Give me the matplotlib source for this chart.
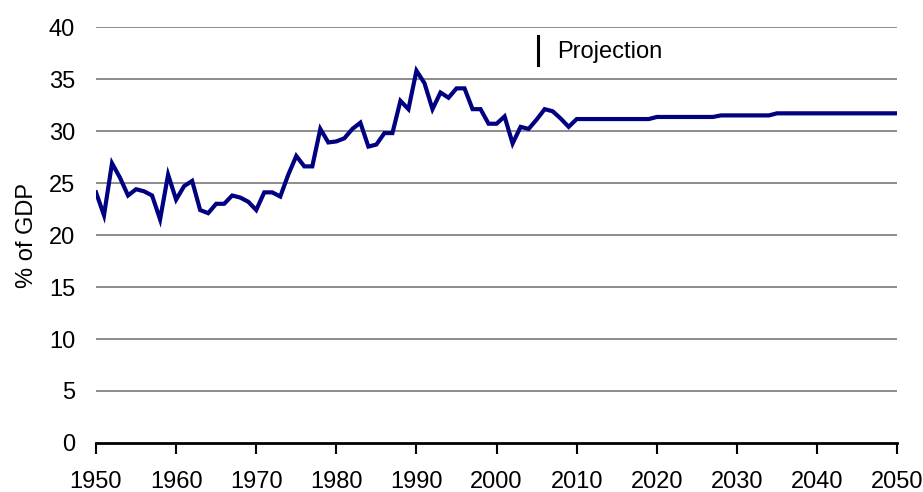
import matplotlib
matplotlib.use("Agg")
import matplotlib.pyplot as plt
import numpy as np

plt.rcParams['font.family'] = ['Liberation Sans', 'DejaVu Sans']

years = list(range(1950, 2051))
hist_values = [
    24.1, 21.9, 26.9, 25.5, 23.8, 24.4, 24.2, 23.8, 21.5, 25.8,  # 1950-1959
    23.4, 24.7, 25.2, 22.4, 22.1, 23.0, 23.0, 23.8, 23.6, 23.2,  # 1960-1969
    22.4, 24.1, 24.1, 23.7, 25.8, 27.6, 26.6, 26.6, 30.2, 28.9,  # 1970-1979
    29.0, 29.3, 30.2, 30.8, 28.5, 28.7, 29.8, 29.8, 32.9, 32.1,  # 1980-1989
    35.8, 34.6, 32.1, 33.7, 33.2, 34.1, 34.1, 32.1, 32.1, 30.7,  # 1990-1999
    30.7, 31.4, 28.8, 30.4, 30.2, 31.1, 32.1, 31.9, 31.2, 30.4,  # 2000-2009
]
proj_values = (
    [31.15] * 10 +   # 2010-2019
    [31.35] * 8 +    # 2020-2027
    [31.5] * 7 +     # 2028-2034
    [31.7] * 16      # 2035-2050
)
values = hist_values + proj_values

y_ticks = [0, 5, 10, 15, 20, 25, 30, 35, 40]
x_ticks = list(range(1950, 2051, 10))
y_label = "% of GDP"
proj_label = "Projection"
proj_year = 2005.2

fig = plt.figure(figsize=(9.23, 4.92), dpi=100)
ax = fig.add_axes([0.104, 0.0996, 0.868, 0.8455])

for yt in y_ticks[1:]:
    ax.axhline(yt, color='#6e6e6e', linewidth=1.1, zorder=1)

ax.plot(years, values, color='#000080', linewidth=3.0, zorder=3, solid_joinstyle='miter')

ax.plot([proj_year, proj_year], [36.3, 39.1], color='black', linewidth=2.2, zorder=3)
ax.text(2007.6, 37.6, proj_label, fontsize=17, va='center', ha='left', color='black')

ax.set_xlim(1950, 2050)
ax.set_ylim(0, 40)
ax.set_xticks(x_ticks)
ax.set_yticks(y_ticks)
ax.tick_params(axis='x', direction='out', length=8, width=1.5, pad=12, labelsize=17, colors='black')
ax.tick_params(axis='y', length=0, pad=15, labelsize=17)
for s in ['top', 'right', 'left']:
    ax.spines[s].set_visible(False)
ax.spines['bottom'].set_linewidth(2.0)
ax.spines['bottom'].set_color('black')
ax.set_ylabel(y_label, fontsize=17, labelpad=8)
ax.patch.set_alpha(0)

fig.savefig("out.png", dpi=100)
